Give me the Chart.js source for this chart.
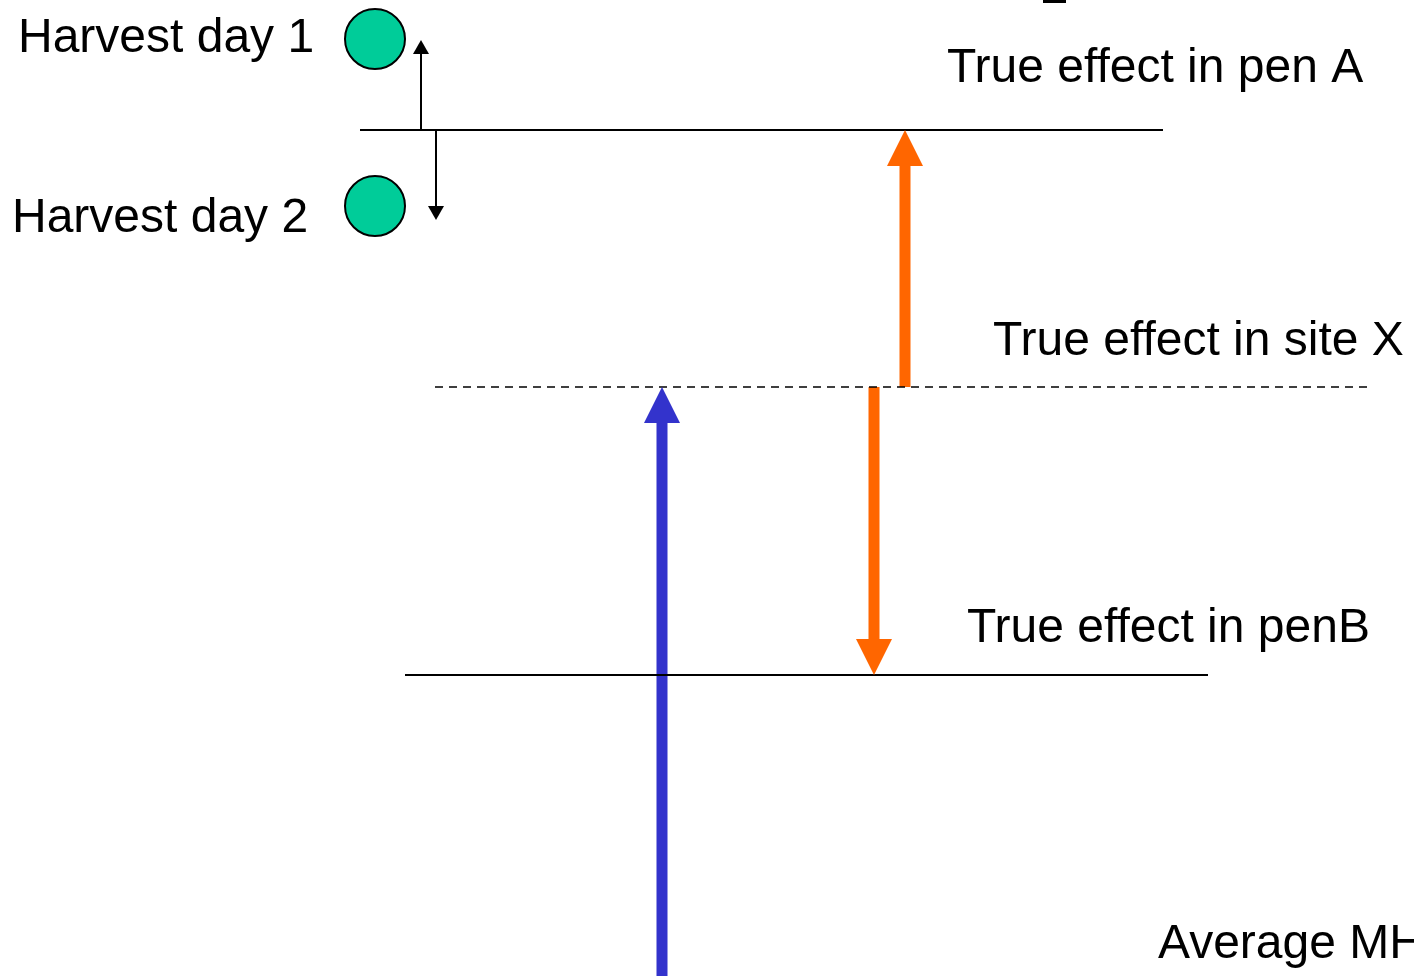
<!DOCTYPE html>
<html>
<head>
<meta charset="utf-8">
<script src="https://cdn.jsdelivr.net/npm/chart.js@4"></script>
<style>
  html, body { margin: 0; padding: 0; background: #fff; overflow: hidden; }
  #wrap { width: 1414px; height: 976px; }
</style>
</head>
<body>
<div id="wrap"><canvas id="diagram"></canvas></div>
<script>
// levels (horizontal lines): pen A, site X (dashed), pen B
const levelNames = ["pen A", "site X", "pen B"];
const levelY = [130, 387, 675];
const levelStart = [360, 435, 405];
const levelEnd = [1163, 1368, 1208];

// arrows: x position, start level, tip level
const arrowX = [662, 905, 874, 421, 436];
const arrowFrom = [976, 387, 387, 130, 130];
const arrowTo = [387, 130, 675, 40, 220];
const arrowColors = ["#3333CC", "#FF6600", "#FF6600", "#000000", "#000000"];

// harvest days (circles)
const harvestX = [375, 375];
const harvestY = [39, 206];

// labels
const labelText = ["Harvest day 1", "Harvest day 2", "True effect in pen A",
  "True effect in site X", "True effect in penB", "Average MH"];
const labelX = [18, 12, 947, 993, 967, 1158];
const labelY = [52, 232, 82, 355, 642, 958];

// fragment of a title cut off at the top
const titleFrag = [{ x: 1043, y: 1.5 }, { x: 1066, y: 1.5 }];

const lineSets = levelY.map((y, i) => ({
  label: levelNames[i],
  data: [{ x: levelStart[i], y: y }, { x: levelEnd[i], y: y }],
  showLine: true,
  borderColor: "#000",
  borderWidth: i === 1 ? 1.5 : 2,
  borderDash: i === 1 ? [8, 6] : [],
  pointRadius: 0,
}));

// arrow shafts stop where the head starts
const arrowSets = arrowX.map((x, i) => {
  const big = i < 3;
  const headLen = big ? 36 : 14;
  const dir = arrowTo[i] < arrowFrom[i] ? 1 : -1;
  return {
    label: "arrow" + i,
    data: [{ x: x, y: arrowFrom[i] }, { x: x, y: arrowTo[i] + dir * headLen }],
    showLine: true,
    borderColor: arrowColors[i],
    borderWidth: big ? 11 : 2,
    borderCapStyle: "butt",
    pointRadius: 0,
  };
});

const arrowHeads = {
  id: "arrowHeads",
  afterDatasetsDraw(chart) {
    const { ctx, scales } = chart;
    arrowX.forEach((x, i) => {
      const big = i < 3;
      const halfW = big ? 18 : 8;
      const headLen = big ? 36 : 14;
      const px = scales.x.getPixelForValue(x);
      const tip = scales.y.getPixelForValue(arrowTo[i]);
      const dir = arrowTo[i] < arrowFrom[i] ? 1 : -1;
      ctx.save();
      ctx.fillStyle = arrowColors[i];
      ctx.beginPath();
      ctx.moveTo(px, tip);
      ctx.lineTo(px - halfW, tip + dir * headLen);
      ctx.lineTo(px + halfW, tip + dir * headLen);
      ctx.closePath();
      ctx.fill();
      ctx.restore();
    });
  },
};

const textLabels = {
  id: "textLabels",
  afterDraw(chart) {
    const { ctx, scales } = chart;
    ctx.save();
    ctx.fillStyle = "#000";
    ctx.font = '48px "Liberation Sans", Arial, sans-serif';
    ctx.textBaseline = "alphabetic";
    labelText.forEach((t, i) => {
      ctx.fillText(t, scales.x.getPixelForValue(labelX[i]), scales.y.getPixelForValue(labelY[i]));
    });
    ctx.restore();
  },
};

new Chart(document.getElementById("diagram"), {
  type: "scatter",
  data: {
    datasets: [
      ...lineSets,
      ...arrowSets,
      {
        label: "harvest",
        data: harvestX.map((x, i) => ({ x: x, y: harvestY[i] })),
        pointRadius: 30,
        pointBackgroundColor: "#00CC99",
        pointBorderColor: "#000",
        pointBorderWidth: 2,
      },
      {
        label: "title",
        data: titleFrag,
        showLine: true,
        borderColor: "#000",
        borderWidth: 3,
        pointRadius: 0,
      },
    ],
  },
  options: {
    responsive: true,
    maintainAspectRatio: false,
    animation: false,
    layout: { padding: 0, autoPadding: false },
    clip: false,
    plugins: { legend: { display: false }, tooltip: { enabled: false } },
    scales: {
      x: { type: "linear", min: 0, max: 1414, display: false },
      y: { type: "linear", min: 0, max: 976, reverse: true, display: false },
    },
  },
  plugins: [arrowHeads, textLabels],
});
</script>
</body>
</html>
